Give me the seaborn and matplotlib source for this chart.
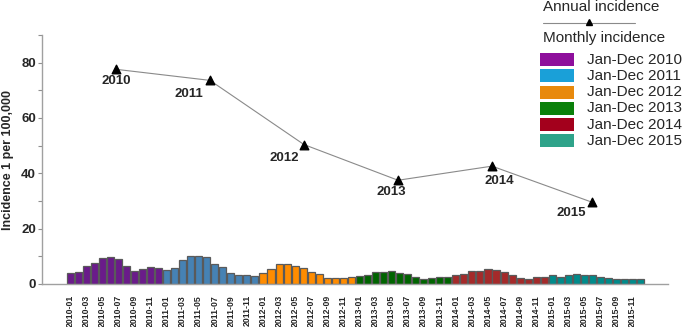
import matplotlib
matplotlib.use("Agg")
import matplotlib.pyplot as plt
import seaborn as sns
import pandas as pd
from matplotlib.patches import Rectangle
from matplotlib.lines import Line2D

# ---------------- data ----------------
years = ["2010", "2011", "2012", "2013", "2014", "2015"]
inc_2010 = [4.1, 4.2, 6.5, 7.7, 9.4, 9.9, 9.2, 6.5, 4.8, 5.6, 6.0, 5.8]
inc_2011 = [5.1, 5.8, 8.8, 10.0, 10.0, 9.8, 7.1, 6.0, 3.9, 3.1, 3.1, 2.8]
inc_2012 = [4.0, 5.3, 7.1, 7.4, 6.4, 5.7, 4.4, 3.5, 2.1, 2.1, 2.1, 2.5]
inc_2013 = [3.0, 3.3, 4.4, 4.4, 4.7, 4.0, 3.5, 2.7, 1.8, 2.3, 2.7, 2.7]
inc_2014 = [3.4, 3.7, 4.6, 4.6, 5.3, 5.2, 4.2, 3.4, 2.2, 1.9, 2.4, 2.7]
inc_2015 = [3.1, 2.5, 3.4, 3.6, 3.4, 3.1, 2.7, 2.1, 1.8, 1.8, 1.8, 1.8]
monthly = [inc_2010, inc_2011, inc_2012, inc_2013, inc_2014, inc_2015]

annual_vals = [77.6, 73.6, 50.4, 37.5, 42.6, 29.5]
annual_pos = [5.7, 17.4, 29.1, 40.8, 52.5, 65.0]   # position along month axis
annual_label_offsets = [(0, -12), (-21, -14), (-20, -13), (-7, -12), (7, -15), (-21, -11)]

bar_colors = ["#6a1b8a", "#4682b4", "#ff8c00", "#006400", "#a52a2a", "#008b8b"]
legend_colors = ["#8e0f9c", "#1aa0d8", "#e8890c", "#0a800a", "#a3001c", "#2fa38a"]
legend_labels = ["Jan-Dec 2010", "Jan-Dec 2011", "Jan-Dec 2012",
                 "Jan-Dec 2013", "Jan-Dec 2014", "Jan-Dec 2015"]

months = [f"{y}-{m:02d}" for y in years for m in range(1, 13)]
df = pd.DataFrame({
    "month": months,
    "value": [v for ys in monthly for v in ys],
    "year": [y for y in years for _ in range(12)],
})

# ---------------- plot ----------------
sns.set_style("white")
plt.rcParams["font.family"] = ["Liberation Sans", "DejaVu Sans"]

fig = plt.figure(figsize=(6.85, 3.27), dpi=100)
ax = fig.add_axes([42 / 685, 43 / 327, (668 - 42) / 685, (284 - 35) / 327])

sns.barplot(data=df, x="month", y="value", hue="year", order=months,
            hue_order=years, palette=bar_colors, dodge=False, width=0.88,
            saturation=1, edgecolor="#5a5a5a", linewidth=0.9,
            errorbar=None, legend=False, ax=ax)

ax.plot(annual_pos, annual_vals, color="#8a8a8a", lw=0.8, zorder=3)
ax.scatter(annual_pos, annual_vals, marker="^", s=38, color="black", zorder=4)
for x, y, lab, off in zip(annual_pos, annual_vals, years, annual_label_offsets):
    ax.annotate(lab, (x, y), xytext=off, textcoords="offset pixels",
                ha="center", va="center", fontsize=9.5, fontweight="bold")

ax.set_xlim(-3.5, 74.4)
ax.set_ylim(0, 90)
ax.set_yticks([0, 20, 40, 60, 80])
ax.set_yticks([10, 30, 50, 70, 90], minor=True)
ax.set_yticklabels(["0", "20", "40", "60", "80"], fontsize=9.5, fontweight="bold")
ax.tick_params(axis="y", which="both", direction="out", length=3, width=0.8,
               color="#909090", left=True, pad=1.5)
ax.set_xticks(range(0, 72, 2))
ax.set_xticklabels(months[::2], rotation=90, fontsize=6.3, fontweight="bold")
ax.tick_params(axis="x", length=0, pad=8)

ax.set_xlabel("")
ax.set_ylabel("Incidence 1 per 100,000", fontsize=9, fontweight="bold")
ax.yaxis.set_label_coords(-0.044, 0.5)

for s in ["top", "right"]:
    ax.spines[s].set_visible(False)
for s in ["left", "bottom"]:
    ax.spines[s].set_color("#a0a0a0")
    ax.spines[s].set_linewidth(1.0)

# ---------------- legend (figure coords) ----------------
W, H = 685, 327
def fx(px): return px / W
def fy(py): return 1 - py / H

fig.text(fx(543), fy(7), "Annual incidence", fontsize=11, va="center", ha="left")
fig.add_artist(Line2D([fx(543), fx(635)], [fy(23), fy(23)], color="#8a8a8a",
                      lw=0.8, transform=fig.transFigure))
fig.add_artist(Line2D([fx(589)], [fy(22)], marker="^", markersize=4,
                      color="black", transform=fig.transFigure))
fig.text(fx(543), fy(38), "Monthly incidence", fontsize=11, va="center", ha="left")
for i, (c, lab) in enumerate(zip(legend_colors, legend_labels)):
    yc = 59.5 + 16.3 * i
    fig.add_artist(Rectangle((fx(540), fy(yc + 6.5)), fx(574) - fx(540), 13 / H,
                             facecolor=c, edgecolor="none",
                             transform=fig.transFigure))
    fig.text(fx(587), fy(yc), lab, fontsize=11, va="center", ha="left")

fig.savefig("out.png", dpi=100)
